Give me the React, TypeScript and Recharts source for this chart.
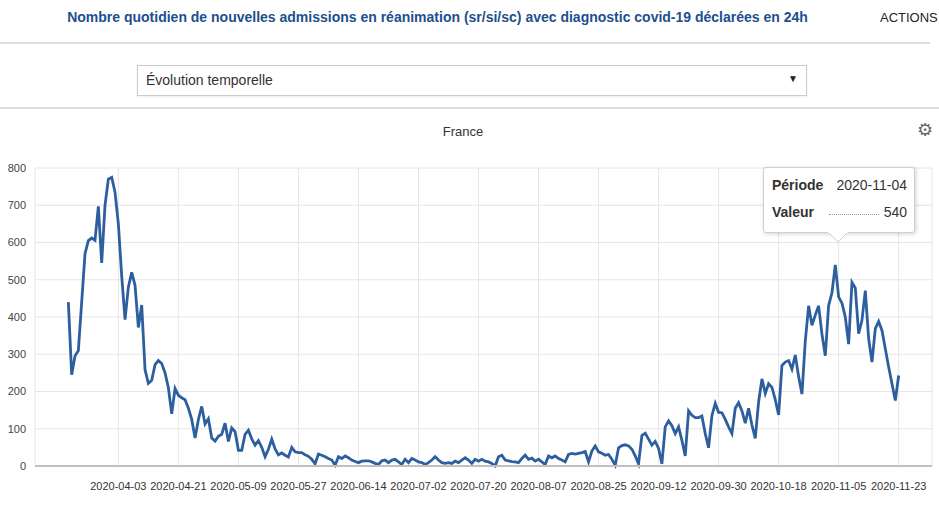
import { LineChart, Line, XAxis, YAxis, CartesianGrid, Tooltip } from 'recharts';

// daily admissions, starting 2020-03-19
const startDate = Date.UTC(2020, 2, 19);
const values = [
    440, 245, 295, 310, 440, 570, 605, 612, 606, 697,
    545, 700, 770, 775, 735, 650, 510, 393, 480, 520,
    485, 372, 432, 258, 222, 230, 272, 283, 275, 250,
    210, 140, 208, 190, 183, 178, 155, 125, 75, 125,
    160, 113, 127, 75, 67, 80, 85, 115, 66, 102,
    92, 42, 42, 85, 96, 73, 56, 68, 50, 25,
    45, 72, 46, 30, 35, 29, 24, 50, 38, 36,
    36, 30, 26, 18, 6, 32, 29, 25, 20, 16,
    2, 25, 20, 27, 22, 16, 12, 9, 13, 14,
    14, 11, 7, 4, 14, 16, 9, 16, 18, 11,
    4, 18, 9, 20, 16, 11, 9, 4, 9, 16,
    25, 16, 9, 7, 9, 7, 13, 9, 16, 22,
    16, 7, 18, 13, 18, 13, 11, 7, 0, 25,
    29, 16, 14, 12, 11, 9, 20, 29, 18, 21,
    13, 18, 11, 4, 27, 22, 27, 20, 16, 11,
    31, 34, 32, 34, 36, 39, 11, 40, 54, 38,
    34, 29, 31, 18, 2, 49, 55, 57, 54, 45,
    27, 6, 82, 88, 72, 56, 66, 47, 6, 105,
    121, 108, 87, 105, 69, 27, 148, 136, 130, 130,
    134, 87, 49, 135, 168, 144, 143, 125, 105, 87,
    155, 170, 148, 115, 155, 110, 74, 172, 234, 195,
    221, 211, 178, 137, 270, 279, 283, 260, 298, 240,
    193, 335, 430, 378, 405, 430, 354, 296, 431, 465,
    540, 454, 437, 400, 327, 493, 478, 355, 391, 471,
    342, 279, 369, 388, 364, 315, 266, 221, 176, 243,
];

const tickIdx = [15, 33, 51, 69, 87, 105, 123, 141, 159, 177, 195, 213, 231, 249];
const tickLabels = [
    '2020-04-03', '2020-04-21', '2020-05-09', '2020-05-27', '2020-06-14', '2020-07-02', '2020-07-20',
    '2020-08-07', '2020-08-25', '2020-09-12', '2020-09-30', '2020-10-18', '2020-11-05', '2020-11-23',
];
const yTicks = [0, 100, 200, 300, 400, 500, 600, 700, 800];
const highlightIdx = 230;

const fmtDate = (i: number) => new Date(startDate + i * 86400000).toISOString().slice(0, 10);

const chartData = values.map((v, i) => ({ day: i, periode: fmtDate(i), valeur: v }));

const font = '"Liberation Sans", Arial, Helvetica, sans-serif';

function InfoBox({ payload }: any) {
    const point = payload && payload.length ? payload[0].payload : chartData[highlightIdx];
    return (
        <div style={{ position: 'relative', width: 152, height: 66, fontFamily: font, fontSize: 14, color: '#333' }}>
            <div style={{
                position: 'absolute', inset: 0, background: '#fff', border: '1px solid #cfcfcf',
                borderRadius: 3, boxShadow: '1px 1px 4px rgba(0,0,0,0.18)', boxSizing: 'border-box'
            }} />
            <svg width={20} height={12} style={{ position: 'absolute', left: 65, top: 65 }}>
                <path d="M0 0 L10 10 L20 0 Z" fill="#fff" stroke="#cfcfcf" />
                <path d="M0 0 L20 0" stroke="#fff" strokeWidth={2} />
            </svg>
            <div style={{ position: 'absolute', left: 9, top: 10, fontWeight: 'bold' }}>Période</div>
            <div style={{ position: 'absolute', right: 8, top: 10 }}>{point.periode}</div>
            <div style={{ position: 'absolute', left: 9, top: 37, fontWeight: 'bold' }}>Valeur</div>
            <div style={{ position: 'absolute', left: 66, width: 50, top: 47, borderTop: '1px dotted #999' }} />
            <div style={{ position: 'absolute', right: 8, top: 37 }}>{point.valeur}</div>
        </div>
    );
}

export default function App() {
    return (
        <div style={{ position: 'absolute', left: 0, top: 0, width: 939, height: 506, background: '#fff', fontFamily: font, overflow: 'hidden' }}>
            <div style={{ position: 'absolute', left: 40, top: 9, width: 795, textAlign: 'center', color: '#1d4f8e', fontWeight: 'bold', fontSize: 14, whiteSpace: 'nowrap' }}>
                Nombre quotidien de nouvelles admissions en réanimation (sr/si/sc) avec diagnostic covid-19 déclarées en 24h
            </div>
            <div style={{ position: 'absolute', left: 880, top: 10, fontSize: 13, color: '#222' }}>ACTIONS</div>
            <div style={{ position: 'absolute', left: 0, top: 42, width: 930, height: 2, background: '#ddd' }} />

            <div style={{
                position: 'absolute', left: 137, top: 65, width: 670, height: 31, border: '1px solid #ccc',
                boxSizing: 'border-box', boxShadow: '0 1px 2px rgba(0,0,0,0.08)'
            }}>
                <div style={{ position: 'absolute', left: 8, top: 6, fontSize: 14, color: '#333' }}>Évolution temporelle</div>
                <div style={{ position: 'absolute', right: 8, top: 7, fontSize: 10, color: '#222' }}>▼</div>
            </div>
            <div style={{ position: 'absolute', left: 0, top: 107, width: 939, height: 2, background: '#ddd' }} />

            <div style={{ position: 'absolute', left: 0, width: 926, top: 124, textAlign: 'center', fontSize: 13, color: '#333' }}>France</div>
            <div style={{ position: 'absolute', left: 917, top: 119, fontSize: 18, color: '#666', fontFamily: '"DejaVu Sans"' }}>⚙</div>

            <div style={{ position: 'absolute', left: 0, top: 150 }}>
                <LineChart width={939} height={356} data={chartData} margin={{ top: 18, right: 7, bottom: 0, left: 0 }}>
                    <CartesianGrid stroke="#e6e6e6" />
                    <XAxis
                        dataKey="day"
                        type="number"
                        domain={[-10, 259]}
                        ticks={tickIdx}
                        tickFormatter={(v) => tickLabels[tickIdx.indexOf(v)] ?? ''}
                        height={40}
                        tickLine={false}
                        tickMargin={10}
                        stroke="#c0c0c0"
                        strokeWidth={2}
                        tick={{ fill: '#333', fontSize: 11, fontFamily: font }}
                        interval={0}
                    />
                    <YAxis
                        domain={[0, 800]}
                        ticks={yTicks}
                        width={35}
                        axisLine={false}
                        tickLine={false}
                        tickMargin={3}
                        tick={{ fill: '#444', fontSize: 11, fontFamily: font }}
                    />
                    <Tooltip
                        active
                        defaultIndex={highlightIdx}
                        cursor={false}
                        position={{ x: 763, y: 17 }}
                        content={InfoBox}
                        isAnimationActive={false}
                        wrapperStyle={{ outline: 'none', zIndex: 5 }}
                    />
                    <Line
                        type="linear"
                        dataKey="valeur"
                        stroke="#2d5f9f"
                        strokeWidth={2.8}
                        dot={false}
                        activeDot={false}
                        isAnimationActive={false}
                    />
                </LineChart>
            </div>
        </div>
    );
}
